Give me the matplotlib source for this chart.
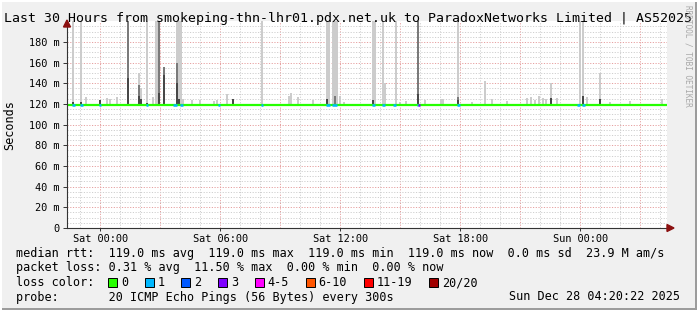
import matplotlib
matplotlib.use("Agg")
import matplotlib.pyplot as plt
from matplotlib.patches import Rectangle, Polygon
import numpy as np

W, H = 697, 310
MONO = "DejaVu Sans Mono"

title = "Last 30 Hours from smokeping-thn-lhr01.pdx.net.uk to ParadoxNetworks Limited | AS52025"
t_start, t_end = -1.67, 28.33          # hours relative to Sat 00:00
median_rtt = 119.0                     # ms

# x axis labels
tick_hours = [0, 6, 12, 18, 24]
tick_labels = ["Sat 00:00", "Sat 06:00", "Sat 12:00", "Sat 18:00", "Sun 00:00"]
ytick_vals = [0, 20, 40, 60, 80, 100, 120, 140, 160, 180]
ytick_labels = ["0"] + ["%d m" % v for v in ytick_vals[1:]]

# smoke spikes: hour, top of light / medium / dark smoke (ms), 0 = none
spike_hour = [-1.35, -0.95, -0.70, 0.00, 0.35, 0.50, 0.85, 1.40, 1.95, 2.05,
              2.35, 2.65, 2.80, 2.88, 2.95, 3.20, 3.85, 3.95, 4.05, 4.15,
              4.60, 5.00, 5.70, 5.85, 6.35, 6.65, 8.10, 9.45, 9.55, 9.90,
              10.65, 11.35, 11.45, 11.65, 11.75, 11.85, 12.00, 12.20, 13.65, 13.75,
              14.15, 14.25, 14.80, 15.00, 15.30, 15.90, 16.25, 17.05, 17.15, 17.90,
              18.60, 19.25, 19.60, 20.35, 21.35, 21.55, 21.75, 21.95, 22.15, 22.30,
              22.55, 22.85, 24.00, 24.15, 24.35, 25.00, 25.50, 26.50, 28.10]
spike_light = [215, 215, 127, 0, 126, 125, 127, 215, 150, 135,
               215, 127, 215, 215, 215, 156, 215, 215, 215, 125,
               124, 124, 123, 124, 130, 0, 215, 128, 131, 127,
               124, 215, 215, 215, 215, 215, 128, 122, 215, 210,
               215, 140, 215, 122, 123, 215, 124, 125, 125, 215,
               122, 142, 125, 123, 126, 127, 124, 128, 126, 125,
               140, 126, 215, 215, 127, 150, 122, 123, 125]
spike_mid = [0, 0, 0, 0, 0, 0, 0, 215, 138, 0,
             0, 0, 0, 0, 215, 156, 160, 0, 0, 0,
             0, 0, 0, 0, 0, 0, 0, 0, 0, 0,
             0, 0, 0, 0, 128, 0, 0, 0, 0, 0,
             0, 0, 0, 0, 0, 215, 0, 0, 0, 127,
             0, 0, 0, 0, 0, 0, 0, 0, 0, 0,
             0, 0, 0, 0, 0, 0, 0, 0, 0]
spike_dark = [122, 122, 0, 124, 0, 0, 0, 145, 128, 125,
              121, 0, 0, 0, 131, 148, 140, 125, 0, 0,
              0, 0, 0, 0, 0, 125, 0, 0, 0, 0,
              0, 125, 0, 0, 0, 0, 0, 0, 124, 0,
              0, 0, 0, 0, 0, 130, 0, 0, 0, 124,
              0, 0, 0, 0, 0, 0, 0, 0, 0, 0,
              126, 0, 0, 128, 0, 125, 0, 0, 0]

# periods with packet loss (hours) and the loss class
loss_start = [-1.40, -1.00, -0.05, 2.30, 3.65, 4.00, 5.90, 8.05, 11.30, 11.60,
              13.60, 14.10, 14.65, 15.85, 15.90, 17.85, 23.85, 24.10]
loss_end = [-1.25, -0.85, 0.05, 2.40, 3.85, 4.15, 6.00, 8.15, 11.50, 11.85,
            13.75, 14.25, 14.80, 15.90, 16.00, 18.00, 24.00, 24.25]
loss_level = [1, 1, 1, 1, 1, 1, 1, 1, 1, 1,
              1, 1, 1, 1, 3, 1, 1, 1]

loss_names = ["0", "1", "2", "3", "4-5", "6-10", "11-19", "20/20"]
loss_colors = ["#26ff00", "#00b8ff", "#0059ff", "#7e00ff",
               "#ff00ff", "#ff5500", "#ff0000", "#a10000"]

legend_lines = [
    "median rtt:  119.0 ms avg  119.0 ms max  119.0 ms min  119.0 ms now  0.0 ms sd  23.9 M am/s",
    "packet loss: 0.31 % avg  11.50 % max  0.00 % min  0.00 % now",
    "loss color:",
    "probe:       20 ICMP Echo Pings (56 Bytes) every 300s",
]
stamp = "Sun Dec 28 04:20:22 2025"


def fx(x):
    return x / W


def fy(y):
    return 1 - y / H


fig = plt.figure(figsize=(W / 100, H / 100), dpi=100, facecolor="#f0f0f0")

# 3d frame
fig.patches.append(Rectangle((0, 0), 1, fy(308), transform=fig.transFigure, color="#9c9c9c", lw=0))
fig.patches.append(Rectangle((fx(695), 0), fx(2), 1, transform=fig.transFigure, color="#9c9c9c", lw=0))
fig.patches.append(Rectangle((0, fy(2)), 1, fy(0) - fy(2), transform=fig.transFigure, color="#ffffff", lw=0))
fig.patches.append(Rectangle((0, 0), fx(2), 1, transform=fig.transFigure, color="#ffffff", lw=0))

ax = fig.add_axes([fx(67), fy(228), 600 / W, (228 - 21.3) / H])
ax.set_facecolor("white")
ax.set_xlim(t_start, t_end)
ax.set_ylim(0, 200)

# grid
for h in range(-1, 29):
    col = "#e6a0a0" if h % 3 == 0 else "#cfcfcf"
    ax.axvline(h, color=col, lw=0.7, ls=(0, (1.2, 1.6)), zorder=0.5)
for v in range(5, 200, 5):
    col = "#e6a0a0" if v % 20 == 0 else "#cfcfcf"
    ax.axhline(v, color=col, lw=0.7, ls=(0, (1.2, 1.6)), zorder=0.5)

# smoke
light = np.array(spike_light, float)
mid = np.array(spike_mid, float)
dark = np.array(spike_dark, float)
ax.bar(spike_hour, np.where(light > 0, light - median_rtt, 0), bottom=median_rtt,
       width=0.1, color="#cccccc", lw=0, zorder=2)
ax.bar(spike_hour, np.where(mid > 0, mid - median_rtt, 0), bottom=median_rtt,
       width=0.1, color="#7a7a7a", lw=0, zorder=3)
ax.bar(spike_hour, np.where(dark > 0, dark - median_rtt, 0), bottom=median_rtt,
       width=0.1, color="#474747", lw=0, zorder=4)

# median line coloured by loss
ax.plot([t_start, t_end], [median_rtt, median_rtt], color=loss_colors[0], lw=1.6,
        solid_capstyle="butt", zorder=5)
ax.hlines([median_rtt] * len(loss_start), loss_start, loss_end,
          colors=[loss_colors[l] for l in loss_level], lw=1.8, zorder=6)

for s in ["top", "right"]:
    ax.spines[s].set_visible(False)
for s in ["left", "bottom"]:
    ax.spines[s].set_color("#333333")
    ax.spines[s].set_linewidth(0.8)
    ax.spines[s].set_zorder(7)

ax.set_xticks(tick_hours, tick_labels, family=MONO, fontsize=7.4)
ax.set_yticks(ytick_vals, ytick_labels, family=MONO, fontsize=7.4)
ax.tick_params(axis="x", length=2, width=0.7, color="#333333", pad=2.5)
ax.tick_params(axis="y", length=3, width=0.7, color="#333333", pad=2.5)

# arrows
fig.patches.append(Polygon([(fx(63.5), fy(27)), (fx(70.5), fy(27)), (fx(67), fy(20))],
                           closed=True, transform=fig.transFigure, color="#8b1010", zorder=10))
fig.patches.append(Polygon([(fx(667), fy(224.5)), (fx(667), fy(231.5)), (fx(674), fy(228))],
                           closed=True, transform=fig.transFigure, color="#8b1010", zorder=10))

fig.text(fx(4), fy(18.5), title, family=MONO, fontsize=9.57, va="center", ha="left")
fig.text(fx(9.5), fy(125), "Seconds", family=MONO, fontsize=8.5, rotation=90,
         va="center", ha="center")
fig.text(fx(688), fy(5), "RRDTOOL / TOBI OETIKER", family=MONO, fontsize=5.6,
         rotation=270, va="top", ha="center", color="#a8a8a8")

line_y = [253.5, 268, 282.5, 297]
for txt, y in zip(legend_lines, line_y):
    fig.text(fx(16), fy(y), txt, family=MONO, fontsize=8.5, va="center", ha="left")

# loss colour boxes
bx = 108.0
for name, col in zip(loss_names, loss_colors):
    fig.patches.append(Rectangle((fx(bx), fy(286.5)), fx(9), fy(277.5) - fy(286.5),
                                 transform=fig.transFigure, facecolor=col,
                                 edgecolor="#000000", lw=0.7))
    fig.text(fx(bx + 13), fy(282.5), name, family=MONO, fontsize=8.5, va="center", ha="left")
    bx += 29.6 + 7.1 * len(name)

fig.text(fx(680), fy(297), stamp, family=MONO, fontsize=8.5, va="center", ha="right")

fig.savefig("out.png", dpi=100, facecolor=fig.get_facecolor())
